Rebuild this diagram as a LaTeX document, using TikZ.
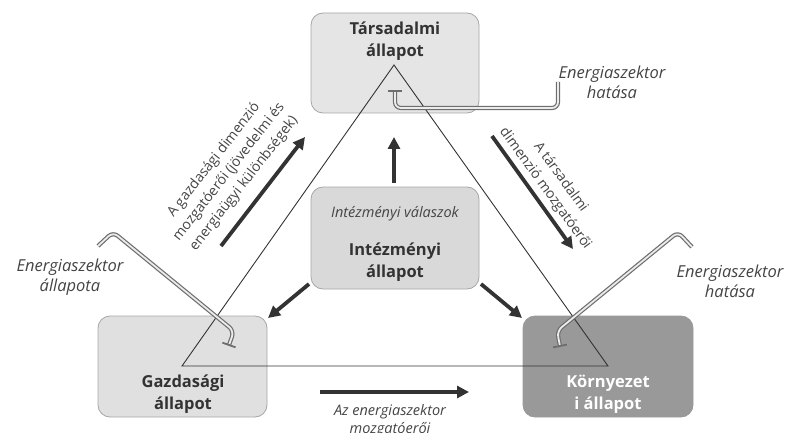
\documentclass[tikz,border=0pt]{standalone}
\usepackage{fontspec}
\setmainfont{Open Sans}
\usetikzlibrary{arrows.meta,calc}
\definecolor{txt}{HTML}{333333}
\definecolor{lbl}{HTML}{444444}
\definecolor{boxline}{HTML}{A6A6A6}
\definecolor{pipe}{HTML}{6E6E6E}
\tikzset{
  box/.style={draw=boxline, line width=0.8pt, rounded corners=12pt, inner sep=0pt},
  title/.style={font=\fontsize{16.5}{22}\selectfont\bfseries, text=txt, align=center},
  ital/.style={font=\fontsize{16.5}{20}\selectfont\itshape, text=lbl, align=center},
  smallital/.style={font=\fontsize{14.5}{18}\selectfont\itshape, text=lbl, align=center},
  rot/.style={font=\fontsize{14}{19}\selectfont, text=lbl, align=center},
  bigarrow/.style={draw=txt, line width=3.8pt, -{Triangle[length=12pt,width=12pt]}},
  tri/.style={draw=txt, line width=0.9pt, line join=miter},
  pipeline/.style={draw=pipe, double=black!8, double distance=1.8pt, line width=1.2pt, rounded corners=6pt},
  teebar/.style={draw=pipe, line width=1.8pt}
}
\begin{document}
\begin{tikzpicture}[x=1pt,y=-1pt]
\useasboundingbox (0,0) rectangle (787,433);
% boxes
\node[box, fill=black!10, minimum width=168pt, minimum height=100pt] (tars) at (395,63) {};
\node[box, fill=black!12, minimum width=169pt, minimum height=101pt] (gazd) at (182.5,366.5) {};
\node[box, fill=black!40, draw=black!40, minimum width=170pt, minimum height=101pt] (korny) at (608,366.5) {};
\node[box, fill=black!15, minimum width=168pt, minimum height=102pt] (inst) at (395,238) {};
% box texts
\node[title] (tarsT) at (395,41) {Társadalmi\\állapot};
\node[title] (gazdT) at (183,394) {Gazdasági\\állapot};
\node[title, text=white] (kornyT) at (608,394) {Környezet\\i állapot};
\node[smallital] (instI) at (395,214) {Intézményi válaszok};
\node[title] (instT) at (395,262) {Intézményi\\állapot};
% triangle
\coordinate (apex) at (394,65);
\coordinate (bl) at (182,366);
\coordinate (br) at (608,366);
\draw[tri] (apex) -- (bl) -- (br) -- cycle;
% arrows
\coordinate (upS) at (394,183);
\coordinate (upE) at (394,137);
\draw[bigarrow] (upS) -- (upE);
\coordinate (ldS) at (309,284);
\coordinate (ldE) at (268,318);
\draw[bigarrow] (ldS) -- (ldE);
\coordinate (rdS) at (481,284);
\coordinate (rdE) at (522,318);
\draw[bigarrow] (rdS) -- (rdE);
\coordinate (bS) at (320,392);
\coordinate (bE) at (469,392);
\draw[bigarrow] (bS) -- (bE);
\coordinate (lgS) at (221,246);
\coordinate (lgE) at (305,137);
\draw[bigarrow] (lgS) -- (lgE);
\coordinate (rgS) at (492,136);
\coordinate (rgE) at (573,249);
\draw[bigarrow] (rgS) -- (rgE);
% rotated labels
\node[rot, rotate=52] (lgL) at (229,172) {A gazdasági dimenzió\\mozgatóerői (jövedelmi és\\energiaügyi különbségek)};
\node[rot, rotate=-54] (rgL) at (553,183) {A társadalmi\\dimenzió mozgatóerői};
% energy labels
\node[ital] (eTop) at (612,82) {Energiaszektor\\hatása};
\node[ital] (eLeft) at (70,277) {Energiaszektor\\állapota};
\node[ital] (eRight) at (730,281) {Energiaszektor\\hatása};
\node[smallital] (bL) at (390,421) {Az energiaszektor\\mozgatóerői};
% pipes
\coordinate (p1a) at (558,82);
\coordinate (p1b) at (558,108);
\coordinate (p1c) at (395,108);
\coordinate (p1d) at (395,91);
\draw[pipeline] (p1a) -- (p1b) -- (p1c) -- (p1d);
\draw[teebar] ($(p1d)!7pt!90:(p1c)$) -- ($(p1d)!7pt!-90:(p1c)$);
\coordinate (p2a) at (98,246);
\coordinate (p2b) at (113,232);
\coordinate (p2c) at (234,331);
\coordinate (p2d) at (229,345);
\draw[pipeline] (p2a) -- (p2b) -- (p2c) -- (p2d);
\draw[teebar] ($(p2d)!7pt!90:(p2c)$) -- ($(p2d)!7pt!-90:(p2c)$);
\coordinate (p3a) at (692,247);
\coordinate (p3b) at (678,232);
\coordinate (p3c) at (557,331);
\coordinate (p3d) at (560,346);
\draw[pipeline] (p3a) -- (p3b) -- (p3c) -- (p3d);
\draw[teebar] ($(p3d)!7pt!90:(p3c)$) -- ($(p3d)!7pt!-90:(p3c)$);
\end{tikzpicture}
\end{document}
